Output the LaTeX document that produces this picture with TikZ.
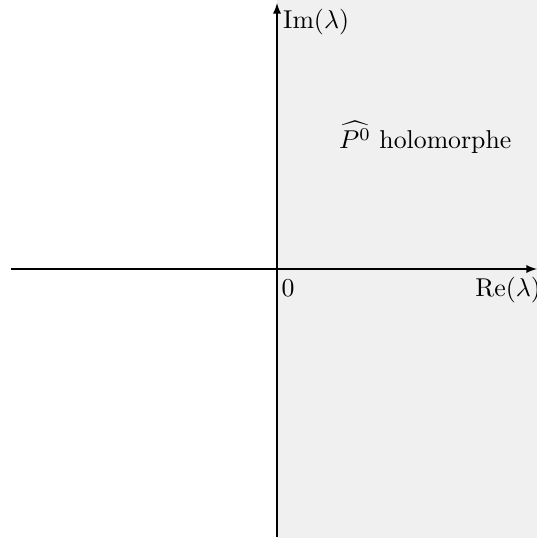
\documentclass[tikz,border=0pt]{standalone}
\usepackage{amssymb}
\usepackage{amsmath}
\usetikzlibrary{arrows}

\begin{document}
\begin{tikzpicture}
\useasboundingbox (-3.774,-3.665) rectangle (3.542,3.665);
\fill[black!6] (0,-3.665) rectangle (3.542,3.665);
\coordinate (xmin) at (-3.624,0);
\coordinate (xmax) at (3.542,0);
\coordinate (ymin) at (0,-3.651);
\coordinate (ymax) at (0,3.624);
\draw[-latex,line width=0.45pt] (xmin) -- (xmax);
\draw[-latex,line width=0.45pt] (ymin) -- (ymax);
\node[anchor=north west,inner sep=2.2pt] (im) at (ymax) {$\mathrm{Im}(\lambda)$};
\node[below right,inner sep=3pt] (re) at (2.59,0) {$\mathrm{Re}(\lambda)$};
\node[below right,inner sep=4pt] (zero) at (-0.086,0) {$0$};
\node (holo) at (2.02,1.8) {$\widehat{P^0}$ holomorphe};
\end{tikzpicture}
\end{document}
